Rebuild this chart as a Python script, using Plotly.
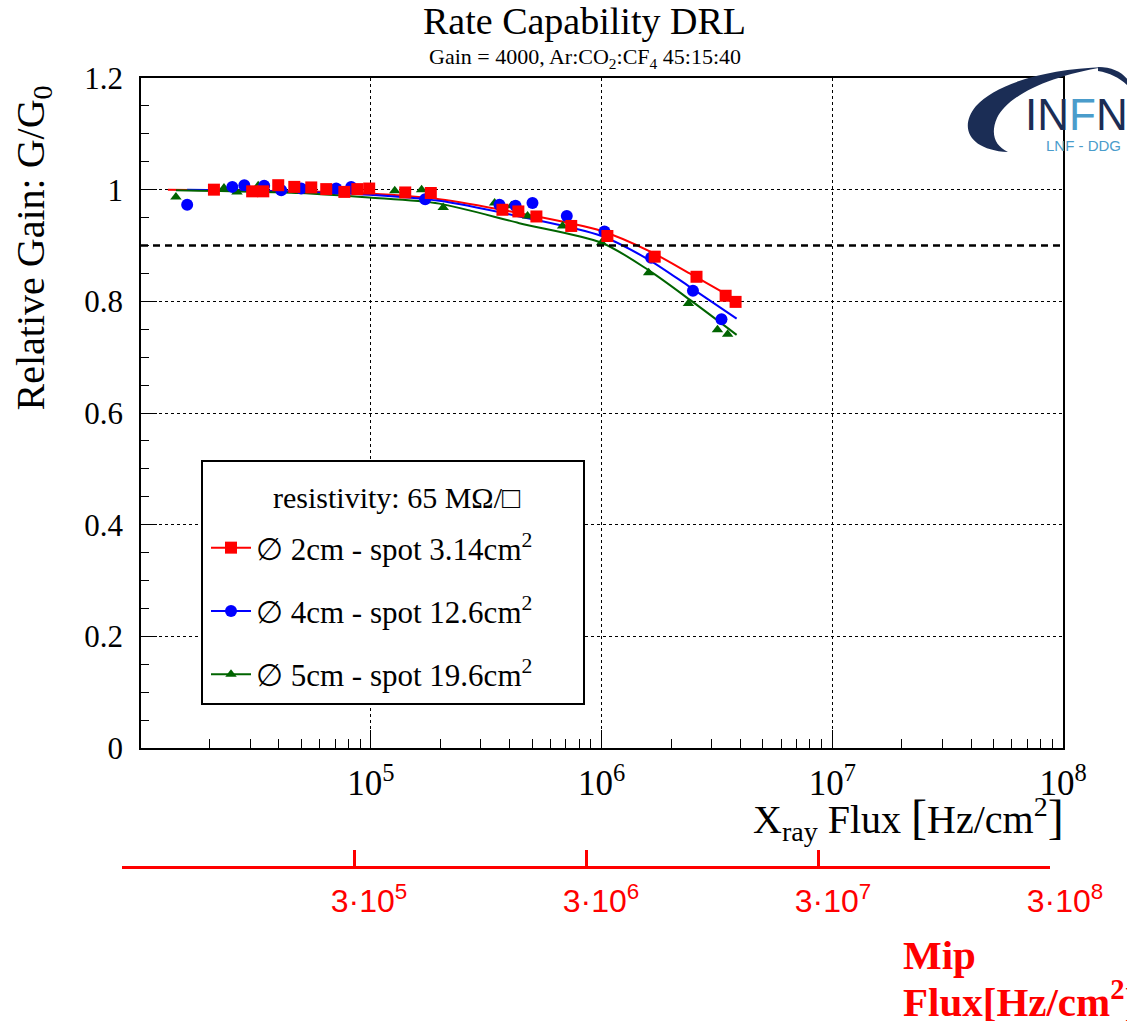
import numpy as np
import plotly.graph_objects as go

# ---------------- data ----------------
# relative gain G/G0 vs X-ray flux [Hz/cm^2]
red_x = [2.09e4, 3.06e4, 3.42e4, 3.97e4, 4.66e4, 5.52e4, 6.41e4, 7.68e4, 8.74e4, 9.84e4,
         1.41e5, 1.82e5, 3.72e5, 4.36e5, 5.22e5, 7.39e5, 1.06e6, 1.70e6, 2.58e6, 3.45e6, 3.81e6]
red_y = [1.000, 0.997, 0.997, 1.008, 1.005, 1.004, 1.001, 0.996, 1.001, 1.002,
         0.995, 0.994, 0.964, 0.961, 0.952, 0.935, 0.917, 0.880, 0.844, 0.810, 0.799]

blue_x = [1.60e4, 2.51e4, 2.83e4, 3.45e4, 4.09e4, 4.99e4, 7.08e4, 8.22e4, 1.72e5,
          3.61e5, 4.24e5, 5.02e5, 7.07e5, 1.03e6, 1.64e6, 2.49e6, 3.31e6]
blue_y = [0.973, 1.005, 1.008, 1.007, 0.999, 1.002, 1.002, 1.005, 0.983,
          0.973, 0.971, 0.976, 0.953, 0.925, 0.878, 0.819, 0.768]

green_x = [1.43e4, 2.31e4, 2.63e4, 3.25e4, 1.27e5, 1.66e5, 2.06e5, 3.44e5, 4.07e5,
           4.78e5, 6.78e5, 1.00e6, 1.60e6, 2.38e6, 3.18e6, 3.52e6]
green_y = [0.987, 1.003, 0.996, 1.007, 0.998, 1.000, 0.968, 0.976, 0.971,
           0.953, 0.935, 0.905, 0.851, 0.796, 0.749, 0.741]

# fitted curves
fit_red_x = [1.32e4, 4.90e4, 9.84e4, 1.98e5, 4.40e5, 1.00e6, 1.61e6, 2.41e6, 3.85e6]
fit_red_y = [1.000, 0.997, 0.993, 0.983, 0.958, 0.926, 0.890, 0.850, 0.802]
fit_blue_x = [1.60e4, 4.90e4, 9.84e4, 1.98e5, 4.40e5, 1.00e6, 1.61e6, 2.41e6, 3.85e6]
fit_blue_y = [1.000, 0.996, 0.991, 0.980, 0.952, 0.917, 0.874, 0.826, 0.769]
fit_green_x = [1.43e4, 4.90e4, 9.84e4, 1.98e5, 4.40e5, 1.00e6, 1.61e6, 2.41e6, 3.85e6]
fit_green_y = [0.999, 0.994, 0.986, 0.975, 0.940, 0.905, 0.855, 0.803, 0.740]

threshold = 0.9

legend_title = "resistivity: 65 MΩ/□"
legend_names = ["∅ 2cm - spot 3.14cm<sup>2</sup>",
                "∅ 4cm - spot 12.6cm<sup>2</sup>",
                "∅ 5cm - spot 19.6cm<sup>2</sup>"]

mip_ticks = [3e4, 3e5, 3e6, 3e7, 3e8]
mip_labels = ["", "3·10<sup>5</sup>", "3·10<sup>6</sup>", "3·10<sup>7</sup>", "3·10<sup>8</sup>"]

# ---------------- layout geometry (pixels) ----------------
W, H = 1127, 1021
L, R, T, B = 122, 1063, 78, 866          # plotting region incl. the Mip axis strip
FRAME_L, FRAME_B = 141, 748               # main frame left / bottom


def px(xp):
    return (xp - L) / (R - L)


def py(yp):
    return (B - yp) / (B - T)


SERIF = "Liberation Serif, Times New Roman, serif"
NARROW = "Liberation Sans Narrow, Arial Narrow, Liberation Sans, sans-serif"

RED, BLUE, GREEN = "#ff0000", "#0000ff", "#006400"
series = [
    (red_x, red_y, fit_red_x, fit_red_y, RED, "square", 12),
    (blue_x, blue_y, fit_blue_x, fit_blue_y, BLUE, "circle", 12),
    (green_x, green_y, fit_green_x, fit_green_y, GREEN, "triangle-up", 10),
]

fig = go.Figure()

# fit curves underneath
for sx, sy, fx, fy, col, sym, sz in series:
    fig.add_trace(go.Scatter(x=fx, y=fy, mode="lines", line=dict(color=col, width=2, shape="spline", smoothing=0.8),
                             showlegend=False, hoverinfo="skip"))

# measured points (green, blue, red on top)
for sx, sy, fx, fy, col, sym, sz in reversed(series):
    fig.add_trace(go.Scatter(x=sx, y=sy, mode="markers",
                             marker=dict(symbol=sym, size=sz, color=col, line=dict(width=0)),
                             showlegend=False))

# legend entries
for i, ((sx, sy, fx, fy, col, sym, sz), name) in enumerate(zip(series, legend_names)):
    fig.add_trace(go.Scatter(x=[None], y=[None], mode="lines+markers", name=name,
                             legendgroup=f"g{i}",
                             line=dict(color=col, width=2),
                             marker=dict(symbol=sym, size=sz, color=col)))

# empty trace carrying the Mip flux axis
fig.add_trace(go.Scatter(x=[None], y=[None], xaxis="x2", yaxis="y2", showlegend=False, hoverinfo="skip"))

shapes = [
    # 0.9 reference line
    dict(type="line", xref="x domain", yref="y", x0=0, x1=1, y0=threshold, y1=threshold,
         line=dict(color="black", width=2.5, dash="7px,5px"), layer="above"),
    # legend frame
    dict(type="rect", xref="paper", yref="paper", x0=px(202), x1=px(584), y0=py(704), y1=py(461),
         line=dict(color="black", width=2), fillcolor="white", layer="above"),
]


def path_from(points_cmds):
    out = []
    for cmd, pts in points_cmds:
        coords = " ".join(f"{px(a):.5f},{py(b):.5f}" for a, b in pts)
        out.append(f"{cmd} {coords}")
    return " ".join(out) + " Z"


# logo swoosh
swoosh = path_from([
    ("M", [(1008, 152)]),
    ("C", [(970, 150), (958, 128), (976, 106)]),
    ("C", [(996, 84), (1045, 69), (1104, 67)]),
    ("C", [(1050, 76), (1008, 95), (997, 118)]),
    ("C", [(990, 134), (995, 146), (1008, 152)]),
])
swoosh_tail = path_from([
    ("M", [(1098, 67)]),
    ("C", [(1112, 67), (1122, 72), (1128, 80)]),
    ("L", [(1128, 86)]),
    ("C", [(1120, 78), (1110, 73), (1098, 71)]),
])
shapes.append(dict(type="path", xref="paper", yref="paper", path=swoosh,
                   fillcolor="#1b2d55", line=dict(width=0), layer="above"))
shapes.append(dict(type="path", xref="paper", yref="paper", path=swoosh_tail,
                   fillcolor="#1b2d55", line=dict(width=0), layer="above"))

annotations = [
    dict(text="Rate Capability DRL", x=px(584), y=py(21), xref="paper", yref="paper",
         xanchor="center", yanchor="middle", showarrow=False, font=dict(family=SERIF, size=38, color="black")),
    dict(text="Gain = 4000, Ar:CO<sub>2</sub>:CF<sub>4</sub> 45:15:40", x=px(585), y=py(58),
         xref="paper", yref="paper", xanchor="center", yanchor="middle", showarrow=False,
         font=dict(family=SERIF, size=22, color="black")),
    dict(text="Relative Gain: G/G<sub>0</sub>", textangle=-90, x=px(33), y=py(84),
         xref="paper", yref="paper", xanchor="center", yanchor="top", showarrow=False,
         font=dict(family=SERIF, size=40, color="black")),
    dict(text="X<sub>ray</sub> Flux <span style='font-size:48px'>[</span>Hz/cm<sup>2</sup><span style='font-size:48px'>]</span>",
         x=px(1066), y=py(818), xref="paper", yref="paper", xanchor="right", yanchor="middle",
         showarrow=False, font=dict(family=SERIF, size=40, color="black")),
    dict(text="<b>Mip</b>", x=px(901), y=py(955), xref="paper", yref="paper",
         xanchor="left", yanchor="middle", align="left", showarrow=False,
         font=dict(family=SERIF, size=41, color=RED)),
    dict(text="<b>Flux[Hz/cm<sup>2</sup>]</b>", x=px(901), y=py(999), xref="paper", yref="paper",
         xanchor="left", yanchor="middle", align="left", showarrow=False,
         font=dict(family=SERIF, size=41, color=RED)),
    dict(text=legend_title, x=px(397), y=py(497), xref="paper", yref="paper",
         xanchor="center", yanchor="middle", showarrow=False,
         font=dict(family=SERIF, size=30, color="black")),
    dict(text="<span style='color:#1b2d55'>IN</span><span style='color:#4a9ccb'>F</span><span style='color:#1b2d55'>N</span>",
         x=px(1023), y=py(115), xref="paper", yref="paper", xanchor="left", yanchor="middle",
         showarrow=False, font=dict(family=NARROW, size=44)),
    dict(text="LNF - DDG", x=px(1123), y=py(145), xref="paper", yref="paper", xanchor="right",
         yanchor="middle", showarrow=False, font=dict(family=NARROW, size=15, color="#4a9ccb")),
]

fig.update_layout(
    width=W, height=H,
    margin=dict(l=L, r=W - R, t=T, b=H - B, pad=0),
    paper_bgcolor="white", plot_bgcolor="white",
    showlegend=True,
    legend=dict(x=px(206), y=py(521), xanchor="left", yanchor="top",
                bgcolor="rgba(0,0,0,0)", borderwidth=0,
                font=dict(family=SERIF, size=31, color="black"),
                tracegroupgap=20, traceorder="grouped", itemwidth=40),
    xaxis=dict(type="log", range=[4.004, 8.0], domain=[px(FRAME_L), 1], anchor="y",
               dtick=1, tick0=0, exponentformat="power",
               ticks="inside", ticklen=18, tickwidth=1, tickcolor="black",
               showline=True, linecolor="black", linewidth=1.5, mirror=True,
               showgrid=True, gridcolor="black", griddash="dot", gridwidth=1, zeroline=False,
               minor=dict(ticks="inside", ticklen=9, tickcolor="black", dtick="D1", showgrid=False),
               tickfont=dict(family=SERIF, size=28, color="black"), ticklabelstandoff=5),
    yaxis=dict(range=[0, 1.2], domain=[py(FRAME_B), 1], anchor="x",
               dtick=0.2, ticks="inside", ticklen=16, tickwidth=1, tickcolor="black",
               showline=True, linecolor="black", linewidth=1.5, mirror=True,
               showgrid=True, gridcolor="black", griddash="dot", gridwidth=1, zeroline=False,
               minor=dict(ticks="inside", ticklen=8, dtick=0.05, tickcolor="black", showgrid=False),
               tickfont=dict(family=SERIF, size=31, color="black"), ticklabelstandoff=10),
    xaxis2=dict(type="log", range=[np.log10(3e4), np.log10(3e8)], domain=[0, px(1050)], anchor="y2",
                tickmode="array", tickvals=mip_ticks, ticktext=mip_labels,
                ticks="inside", ticklen=16, tickwidth=3, tickcolor=RED,
                showline=True, linecolor=RED, linewidth=3, showgrid=False, zeroline=False,
                tickfont=dict(family=NARROW, size=32, color=RED),
                ticklabelshift=15, ticklabelstandoff=5),
    yaxis2=dict(domain=[0, 0.005], anchor="x2", visible=False, range=[0, 1]),
    shapes=shapes,
    annotations=annotations,
)

fig.write_html("out.html")
